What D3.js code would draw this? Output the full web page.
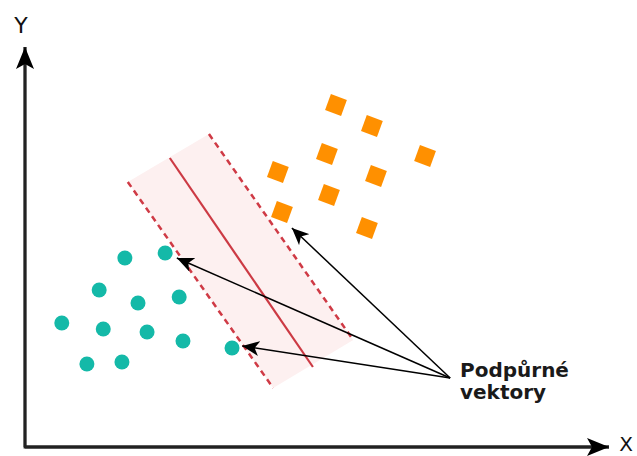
<!DOCTYPE html>
<html><head><meta charset="utf-8">
<script src="https://cdn.jsdelivr.net/npm/d3@7"></script>
<style>body{margin:0;background:#fff}svg{display:block}</style>
</head><body>
<svg id="chart" width="637" height="456"></svg>
<script>
// ---- data (abstract units 0..100) ----
const circlesX = [17.1, 24.0, 12.7, 19.35, 26.4, 6.3, 13.4, 20.9, 27.05, 35.45, 10.6, 16.6];
const circlesY = [47.25, 48.5, 39.25, 36, 37.5, 31, 29.5, 28.75, 26.5, 24.75, 20.75, 21.25];
const squaresX = [53.25, 59.4, 51.7, 68.5, 43.3, 60.1, 52.05, 44.0, 58.55];
const squaresY = [85.5, 80.25, 73.25, 72.75, 68.75, 67.75, 63, 58.75, 54.75];
const hyperplane = [[24.8, 72.25], [49.3, 20]];
const marginLeft = [[17.6, 66.25], [42.5, 14.75]];
const marginRight = [[31.5, 78.25], [56.2, 26.75]];
const arrowFrom = [72.8, 17.25];
const arrowTo = [[45.7, 54.75], [26.0, 47.25], [37.2, 25.25]];
const labelLines = ["Podpůrné", "vektory"];
const axisLabels = ["X", "Y"];

const svg = d3.select("#chart");
const x = d3.scaleLinear().domain([0, 100]).range([25, 609]);
const y = d3.scaleLinear().domain([0, 100]).range([447, 47]);

const defs = svg.append("defs");
function marker(id, len, hw, notch) {
  defs.append("marker").attr("id", id)
    .attr("markerUnits", "userSpaceOnUse")
    .attr("viewBox", `${-len} ${-hw} ${len + 1} ${hw * 2}`)
    .attr("refX", 0).attr("refY", 0)
    .attr("markerWidth", len + 1).attr("markerHeight", hw * 2)
    .attr("orient", "auto")
    .append("path")
    .attr("d", `M0,0 L${-len},${-hw} L${-len + notch},0 L${-len},${hw} Z`)
    .attr("fill", "#000");
}
marker("axHead", 22, 9, 5);
marker("ptrHead", 17, 7.5, 4.5);

// band
const band = [marginLeft[0], marginRight[0], marginRight[1], marginLeft[1]];
svg.append("path")
  .attr("d", d3.line().x(d => x(d[0])).y(d => y(d[1]))(band) + "Z")
  .attr("fill", "#fdf0f0");

// margin lines
[marginLeft, marginRight].forEach(l => {
  svg.append("line")
    .attr("x1", x(l[0][0])).attr("y1", y(l[0][1]))
    .attr("x2", x(l[1][0])).attr("y2", y(l[1][1]))
    .attr("stroke", "#cf3a45").attr("stroke-width", 2.5)
    .attr("stroke-dasharray", "6,4.5");
});
svg.append("line")
  .attr("x1", x(hyperplane[0][0])).attr("y1", y(hyperplane[0][1]))
  .attr("x2", x(hyperplane[1][0])).attr("y2", y(hyperplane[1][1]))
  .attr("stroke", "#cc3a44").attr("stroke-width", 2.2);

// points
svg.append("g").selectAll("circle").data(circlesX).join("circle")
  .attr("cx", (d) => x(d)).attr("cy", (d, i) => y(circlesY[i]))
  .attr("r", 7.5).attr("fill", "#14b9a8");

const side = 17;
svg.append("g").selectAll("rect").data(squaresX).join("rect")
  .attr("x", -side / 2).attr("y", -side / 2)
  .attr("width", side).attr("height", side)
  .attr("transform", (d, i) => `translate(${x(d)},${y(squaresY[i])}) rotate(20)`)
  .attr("fill", "#ff9000");

// axes
svg.append("path")
  .attr("d", `M${x(0)},${y(100)} L${x(0)},${y(0)} L${x(100)},${y(0)}`)
  .attr("fill", "none").attr("stroke", "#222").attr("stroke-width", 2.8);
svg.append("line").attr("x1", x(0)).attr("y1", y(0)).attr("x2", x(0)).attr("y2", y(100))
  .attr("stroke", "#222").attr("stroke-width", 2.8).attr("marker-end", "url(#axHead)");
svg.append("line").attr("x1", x(0)).attr("y1", y(0)).attr("x2", x(100)).attr("y2", y(0))
  .attr("stroke", "#222").attr("stroke-width", 2.8).attr("marker-end", "url(#axHead)");

svg.append("text").attr("x", 626).attr("y", 451).attr("text-anchor", "middle")
  .attr("font-family", "DejaVu Sans").attr("font-size", 20).attr("fill", "#111")
  .text(axisLabels[0]);
svg.append("text").attr("x", 21).attr("y", 33).attr("text-anchor", "middle")
  .attr("font-family", "DejaVu Sans").attr("font-size", 22).attr("fill", "#111")
  .text(axisLabels[1]);

// pointer arrows
arrowTo.forEach(t => {
  svg.append("line")
    .attr("x1", x(arrowFrom[0])).attr("y1", y(arrowFrom[1]))
    .attr("x2", x(t[0])).attr("y2", y(t[1]))
    .attr("stroke", "#000").attr("stroke-width", 1.5)
    .attr("marker-end", "url(#ptrHead)");
});

// label
svg.append("text")
  .attr("font-family", "DejaVu Sans").attr("font-weight", "bold")
  .attr("font-size", 20).attr("fill", "#1a1a1a")
  .selectAll("tspan").data(labelLines).join("tspan")
  .attr("x", 460).attr("y", (d, i) => 377 + i * 22)
  .text(d => d);
</script>
</body></html>
